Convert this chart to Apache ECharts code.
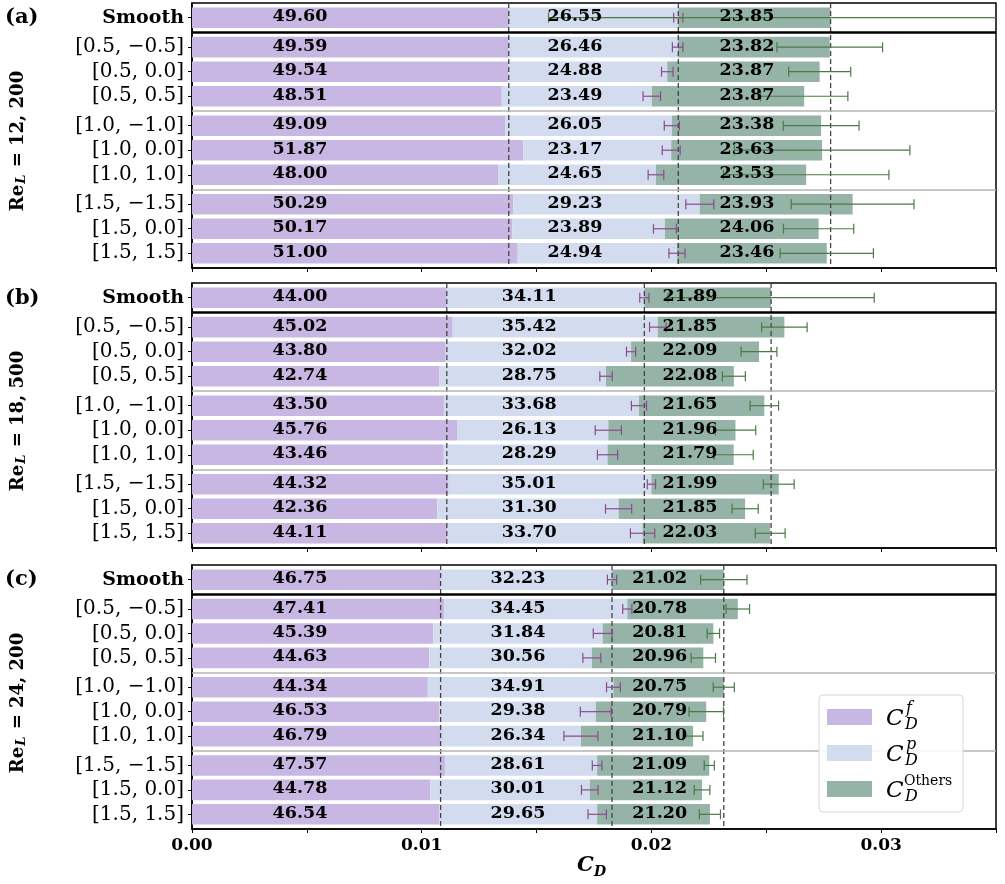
<!DOCTYPE html>
<html>
<head>
<meta charset="utf-8">
<script src="https://cdn.jsdelivr.net/npm/echarts@6/dist/echarts.min.js"></script>
<style>html,body{margin:0;padding:0;background:#fff;}#chart{width:1005px;height:884px;}</style>
</head>
<body>
<div id="chart"></div>
<script>
// ---------- DATA ----------
const categories = ['Smooth', '[0.5, \u22120.5]', '[0.5, 0.0]', '[0.5, 0.5]', '[1.0, \u22121.0]', '[1.0, 0.0]', '[1.0, 1.0]', '[1.5, \u22121.5]', '[1.5, 0.0]', '[1.5, 1.5]'];
const xTicks = [0, 0.01, 0.02, 0.03];

// Panel (a) Re_L = 12,200 : percentages of smooth total C_D
const fA = [49.60, 49.59, 49.54, 48.51, 49.09, 51.87, 48.00, 50.29, 50.17, 51.00];
const pA = [26.55, 26.46, 24.88, 23.49, 26.05, 23.17, 24.65, 29.23, 23.89, 24.94];
const oA = [23.85, 23.82, 23.87, 23.87, 23.38, 23.63, 23.53, 23.93, 24.06, 23.46];
const pErrA = [0.00020, 0.00023, 0.00025, 0.00038, 0.00033, 0.00039, 0.00034, 0.00061, 0.00050, 0.00035];
const oErrA = [0.01228, 0.00230, 0.00135, 0.00190, 0.00165, 0.00382, 0.00360, 0.00267, 0.00153, 0.00203];
const smoothTotalA = 0.0278;

// Panel (b) Re_L = 18,500
const fB = [44.00, 45.02, 43.80, 42.74, 43.50, 45.76, 43.46, 44.32, 42.36, 44.11];
const pB = [34.11, 35.42, 32.02, 28.75, 33.68, 26.13, 28.29, 35.01, 31.30, 33.70];
const oB = [21.89, 21.85, 22.09, 22.08, 21.65, 21.96, 21.79, 21.99, 21.85, 22.03];
const pErrB = [0.00020, 0.00036, 0.00020, 0.00027, 0.00033, 0.00057, 0.00044, 0.00018, 0.00057, 0.00053];
const oErrB = [0.00449, 0.00099, 0.00078, 0.00050, 0.00062, 0.00088, 0.00085, 0.00067, 0.00057, 0.00065];
const smoothTotalB = 0.02521;

// Panel (c) Re_L = 24,200
const fC = [46.75, 47.41, 45.39, 44.63, 44.34, 46.53, 46.79, 47.57, 44.78, 46.54];
const pC = [32.23, 34.45, 31.84, 30.56, 34.91, 29.38, 26.34, 28.61, 30.01, 29.65];
const oC = [21.02, 20.78, 20.81, 20.96, 20.75, 20.79, 21.10, 21.09, 21.12, 21.20];
const pErrC = [0.00020, 0.00020, 0.00041, 0.00039, 0.00030, 0.00067, 0.00074, 0.00021, 0.00036, 0.00040];
const oErrC = [0.00101, 0.00051, 0.00027, 0.00053, 0.00046, 0.00075, 0.00043, 0.00022, 0.00034, 0.00046];
const smoothTotalC = 0.02315;

const panelTags = ['(a)', '(b)', '(c)'];
const panelRe = ['12, 200', '18, 500', '24, 200'];

// ---------- STYLE / LAYOUT ----------
const FONT = "'DejaVu Serif', serif";
const PURPLE = '#c8b7e2', BLUE = '#d3dcee', GREEN = '#96b3a7';
const ERR_P = '#8a4c8e', ERR_O = '#4b7a45';
const BAR_H = 0.84;
const panels = [
  {f: fA, p: pA, o: oA, pe: pErrA, oe: oErrA, T: smoothTotalA},
  {f: fB, p: pB, o: oB, pe: pErrB, oe: oErrB, T: smoothTotalB},
  {f: fC, p: pC, o: oC, pe: pErrC, oe: oErrC, T: smoothTotalC}
];
const gridBoxes = [{top: 3, height: 265}, {top: 283, height: 265}, {top: 565, height: 264}];
const labelX = [[0.0047, 0.01667, 0.02416], [0.0047, 0.01468, 0.02168], [0.0047, 0.01419, 0.02036]];

function rowPos(i) { return i === 0 ? 0 : i + 0.2 * Math.ceil(i / 3); }
const positions = categories.map((c, i) => rowPos(i));

function barRender(color) {
  return function (params, api) {
    const y = api.value(2);
    const a = api.coord([api.value(0), y]);
    const b = api.coord([api.value(1), y]);
    const h = api.size([0, BAR_H])[1];
    return {type: 'rect', shape: {x: a[0], y: a[1] - h / 2, width: b[0] - a[0], height: h}, style: {fill: color}};
  };
}
function errRender(color) {
  return function (params, api) {
    const c = api.value(0), e = api.value(1), y = api.value(2);
    const l = api.coord([c - e, y]), r = api.coord([c + e, y]);
    const cs = params.coordSys;
    const xmax = cs.x + cs.width;
    const cap = 5;
    const st = {stroke: color, lineWidth: 1.2};
    const ch = [
      {type: 'line', shape: {x1: l[0], y1: l[1], x2: Math.min(r[0], xmax), y2: r[1]}, style: st},
      {type: 'line', shape: {x1: l[0], y1: l[1] - cap, x2: l[0], y2: l[1] + cap}, style: st}
    ];
    if (r[0] <= xmax) ch.push({type: 'line', shape: {x1: r[0], y1: r[1] - cap, x2: r[0], y2: r[1] + cap}, style: st});
    return {type: 'group', children: ch};
  };
}
function refRender(params, api) {
  const cs = params.coordSys;
  const pt = api.coord([api.value(0), 0]);
  return {type: 'line', shape: {x1: pt[0], y1: cs.y, x2: pt[0], y2: cs.y + cs.height},
    style: {stroke: '#444', lineWidth: 1.3, lineDash: [5, 3]}};
}
function labelRender(lx) {
  return function (params, api) {
    const y = api.value(1);
    const ch = lx.map((x, j) => {
      const pt = api.coord([x, y]);
      return {type: 'text', x: pt[0], y: pt[1] - 1,
        style: {text: api.value(2 + j).toFixed(2), fill: '#000', fontFamily: FONT, fontWeight: 'bold', fontSize: 17.5, align: 'center', verticalAlign: 'middle'}};
    });
    return {type: 'group', children: ch};
  };
}

const grid = [], xAxis = [], yAxis = [], series = [];
panels.forEach((P, k) => {
  grid.push({left: 192, right: 9, top: gridBoxes[k].top, height: gridBoxes[k].height, show: true, borderColor: '#000', borderWidth: 1.5, backgroundColor: 'transparent'});
  xAxis.push({type: 'value', gridIndex: k, min: 0, max: 0.035, interval: 0.005,
    axisLine: {show: true, onZero: false, lineStyle: {color: '#000', width: 1.5}},
    axisTick: {show: true, length: 4, lineStyle: {color: '#000', width: 1}},
    splitLine: {show: false},
    axisLabel: {show: k === 2, margin: 8, color: '#000', fontFamily: FONT, fontWeight: 'bold', fontSize: 17,
      formatter: v => { const hit = xTicks.find(t => Math.abs(t - v) < 1e-9); return hit === undefined ? '' : hit.toFixed(2); }}
  });
  yAxis.push({type: 'value', gridIndex: k, inverse: true, min: -0.6, max: 10.2,
    axisLine: {show: true, onZero: false, lineStyle: {color: '#000', width: 1.5}},
    axisTick: {show: true, length: 4, customValues: positions, lineStyle: {color: '#000', width: 1}},
    splitLine: {show: false},
    axisLabel: {show: true, customValues: positions, margin: 8, color: '#000', fontFamily: FONT, fontSize: 20,
      formatter: v => { const i = positions.findIndex(p => Math.abs(p - v) < 1e-6); if (i < 0) return ''; return i === 0 ? '{b|' + categories[0] + '}' : categories[i]; },
      rich: {b: {fontFamily: FONT, fontWeight: 'bold', fontSize: 19, color: '#000'}}}
  });
  const T = P.T;
  const fVals = P.f.map(v => v * T / 100);
  const fpVals = P.f.map((v, i) => (v + P.p[i]) * T / 100);
  const totVals = P.f.map((v, i) => (v + P.p[i] + P.o[i]) * T / 100);
  const common = {type: 'custom', xAxisIndex: k, yAxisIndex: k, silent: true, clip: false};
  series.push(Object.assign({}, common, {name: 'CDf', z: 2, itemStyle: {color: PURPLE}, renderItem: barRender(PURPLE),
    encode: {x: [0, 1], y: 2}, data: positions.map((y, i) => [0, fVals[i], y])}));
  series.push(Object.assign({}, common, {name: 'CDp', z: 2, itemStyle: {color: BLUE}, renderItem: barRender(BLUE),
    encode: {x: [0, 1], y: 2}, data: positions.map((y, i) => [fVals[i], fpVals[i], y])}));
  series.push(Object.assign({}, common, {name: 'CDo', z: 2, itemStyle: {color: GREEN}, renderItem: barRender(GREEN),
    encode: {x: [0, 1], y: 2}, data: positions.map((y, i) => [fpVals[i], totVals[i], y])}));
  series.push(Object.assign({}, common, {name: 'ref' + k, z: 3, renderItem: refRender,
    encode: {x: 0}, data: [[fVals[0]], [fpVals[0]], [totVals[0]]]}));
  series.push(Object.assign({}, common, {name: 'errP' + k, z: 3, renderItem: errRender(ERR_P),
    encode: {x: 0, y: 2}, data: positions.map((y, i) => [fpVals[i], P.pe[i], y])}));
  series.push(Object.assign({}, common, {name: 'errO' + k, z: 3, renderItem: errRender(ERR_O),
    encode: {x: 0, y: 2}, data: positions.map((y, i) => [totVals[i], P.oe[i], y]),
    markLine: {silent: true, symbol: 'none', animation: false, label: {show: false},
      data: [
        {yAxis: (positions[0] + positions[1]) / 2, lineStyle: {color: '#000', width: 2.6, type: 'solid'}},
        {yAxis: (positions[3] + positions[4]) / 2, lineStyle: {color: '#b5b5b5', width: 1.5, type: 'solid'}},
        {yAxis: (positions[6] + positions[7]) / 2, lineStyle: {color: '#b5b5b5', width: 1.5, type: 'solid'}}
      ]}}));
  series.push(Object.assign({}, common, {name: 'lab' + k, z: 4, renderItem: labelRender(labelX[k]),
    encode: {x: 0, y: 1}, data: positions.map((y, i) => [labelX[k][0], y, P.f[i], P.p[i], P.o[i]])}));
});

// ---------- graphic texts ----------
const graphic = [];
const tagY = [17.5, 298.5, 579.5];
const titleY = [141, 421, 703];
panelTags.forEach((t, k) => {
  graphic.push({type: 'text', x: 5, y: tagY[k], z: 20,
    style: {text: t, fill: '#000', fontFamily: FONT, fontWeight: 'bold', fontSize: 21, align: 'left', verticalAlign: 'middle'}});
  graphic.push({type: 'text', x: 18, y: titleY[k], rotation: Math.PI / 2, z: 20,
    style: {text: '{m|Re}{s|L}{m| = ' + panelRe[k] + '}', align: 'center', verticalAlign: 'middle',
      rich: {m: {fontFamily: FONT, fontWeight: 'bold', fontSize: 18, lineHeight: 20, fill: '#000', verticalAlign: 'middle'},
             s: {fontFamily: FONT, fontStyle: 'italic', fontWeight: 'bold', fontSize: 13, lineHeight: 13, padding: [12, 1, 0, 1], fill: '#000', verticalAlign: 'bottom'}}}});
});
// x axis name C_D
graphic.push({type: 'text', x: 577, y: 866, z: 20, style: {text: 'C', fill: '#000', fontFamily: FONT, fontStyle: 'italic', fontWeight: 'bold', fontSize: 21, align: 'left', verticalAlign: 'middle'}});
graphic.push({type: 'text', x: 594, y: 872, z: 20, style: {text: 'D', fill: '#000', fontFamily: FONT, fontStyle: 'italic', fontWeight: 'bold', fontSize: 14, align: 'left', verticalAlign: 'middle'}});
// legend labels
const legSup = ['f', 'p', 'Others'];
[717, 753, 789].forEach((yc, j) => {
  graphic.push({type: 'text', x: 886, y: yc + 2, z: 30, style: {text: 'C', fill: '#000', fontFamily: FONT, fontStyle: 'italic', fontSize: 23, align: 'left', verticalAlign: 'middle'}});
  graphic.push({type: 'text', x: 905, y: yc + 8, z: 30, style: {text: 'D', fill: '#000', fontFamily: FONT, fontStyle: 'italic', fontSize: 16, align: 'left', verticalAlign: 'middle'}});
  if (j < 2) graphic.push({type: 'text', x: 906, y: yc - 8, z: 30, style: {text: legSup[j], fill: '#000', fontFamily: FONT, fontStyle: 'italic', fontSize: 16, align: 'left', verticalAlign: 'middle'}});
  else graphic.push({type: 'text', x: 904, y: yc - 8, z: 30, style: {text: legSup[j], fill: '#000', fontFamily: FONT, fontSize: 14, align: 'left', verticalAlign: 'middle'}});
});

const chart = echarts.init(document.getElementById('chart'), null, {renderer: 'canvas'});
chart.setOption({
  animation: false,
  backgroundColor: '#fff',
  grid, xAxis, yAxis, series, graphic,
  legend: {data: [{name: 'CDf', itemStyle: {color: PURPLE}}, {name: 'CDp', itemStyle: {color: BLUE}}, {name: 'CDo', itemStyle: {color: GREEN}}],
    orient: 'vertical', left: 819, top: 695, icon: 'rect', itemWidth: 45, itemHeight: 16, itemGap: 20,
    padding: [14, 91, 15, 8], backgroundColor: 'rgba(255,255,255,0.85)', borderColor: '#d8d8d8', borderWidth: 1, borderRadius: 4,
    formatter: () => '', textStyle: {fontSize: 10}, selectedMode: false, z: 10}
});
</script>
</body>
</html>
